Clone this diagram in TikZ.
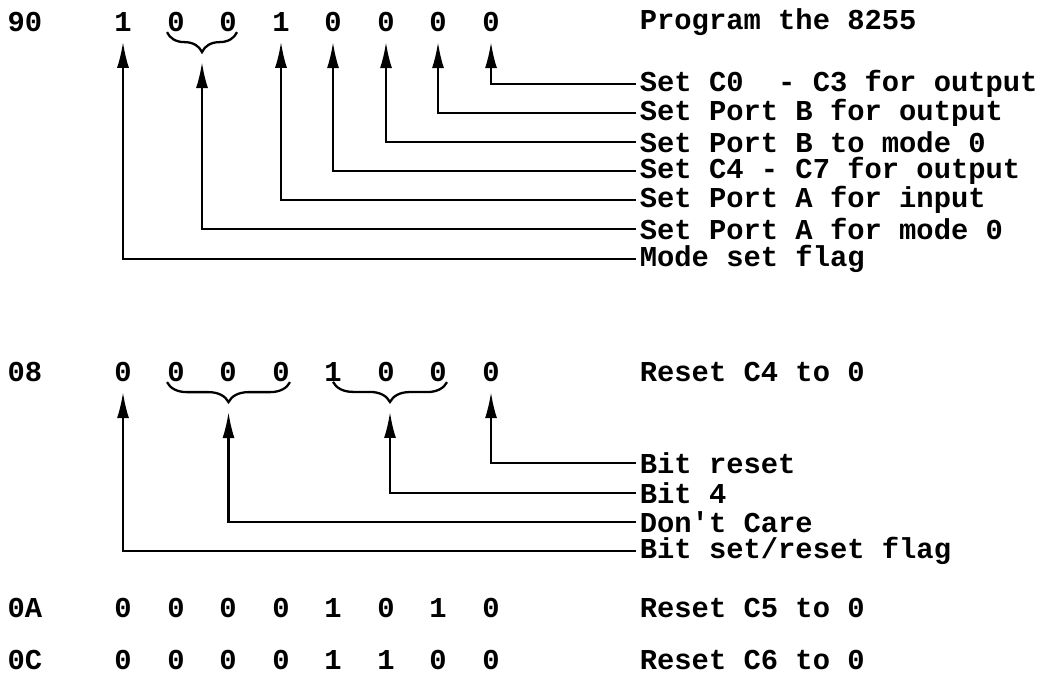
\documentclass[tikz,border=0pt]{standalone}
\usepackage{fontspec}
\setmonofont{Liberation Mono}
\usetikzlibrary{arrows.meta,decorations.pathreplacing}

\begin{document}
\begin{tikzpicture}[
      x=0.02cm, y=-0.02cm,
      txt/.style={font=\ttfamily\bfseries\fontsize{16.4}{20}\selectfont, inner sep=0pt},
      lbl/.style={txt, anchor=west, inner xsep=2pt},
      brace/.style={decorate, decoration={brace, mirror, amplitude=0.4cm}, line width=1.3pt},
      link/.style={<-, line width=1.2pt, shorten <=0.2cm},
      >={Latex[length=0.52cm, width=0.24cm]}
    ]
    \useasboundingbox (0,0) rectangle (1043,682);

    % ---- row positions ----
    \def\ya{22}
    \def\yb{372}
    \def\yc{608}
    \def\yd{660}

    % ---- left edge of the comments ----
    \def\xt{636}

    % ================= 90: program the 8255 =================
    \node[txt] (ha) at (25,\ya) {90};
    \node[txt] (a1) at (123,\ya) {1};
    \node[txt] (a2) at (176,\ya) {0};
    \node[txt] (a3) at (228,\ya) {0};
    \node[txt] (a4) at (281,\ya) {1};
    \node[txt] (a5) at (333,\ya) {0};
    \node[txt] (a6) at (386,\ya) {0};
    \node[txt] (a7) at (438,\ya) {0};
    \node[txt] (a8) at (491,\ya) {0};
    \node[lbl] (ta) at (\xt,\ya) {Program the 8255};

    \draw[brace] (a2.south west) -- (a3.south east) coordinate[midway] (ba);

    \node[lbl] (la1) at (\xt,84)  {Set C0~~- C3 for output};
    \node[lbl] (la2) at (\xt,113) {Set Port B for output};
    \node[lbl] (la3) at (\xt,142) {Set Port B to mode 0};
    \node[lbl] (la4) at (\xt,171) {Set C4 - C7 for output};
    \node[lbl] (la5) at (\xt,200) {Set Port A for input};
    \node[lbl] (la6) at (\xt,229) {Set Port A for mode 0};
    \node[lbl] (la7) at (\xt,259) {Mode set flag};

    \draw[link] (a8.south) |- (la1.west);
    \draw[link] (a7.south) |- (la2.west);
    \draw[link] (a6.south) |- (la3.west);
    \draw[link] (a5.south) |- (la4.west);
    \draw[link] (a4.south) |- (la5.west);
    \draw[link] ([yshift=-0.4cm]ba) |- (la6.west);
    \draw[link] (a1.south) |- (la7.west);

    % ================= 08: reset C4 =================
    \node[txt] (hb) at (25,\yb) {08};
    \node[txt] (b1) at (123,\yb) {0};
    \node[txt] (b2) at (176,\yb) {0};
    \node[txt] (b3) at (228,\yb) {0};
    \node[txt] (b4) at (281,\yb) {0};
    \node[txt] (b5) at (333,\yb) {1};
    \node[txt] (b6) at (386,\yb) {0};
    \node[txt] (b7) at (438,\yb) {0};
    \node[txt] (b8) at (491,\yb) {0};
    \node[lbl] (tb) at (\xt,\yb) {Reset C4 to 0};

    \draw[brace] (b2.south west) -- (b4.south east) coordinate[midway] (bb);
    \draw[brace] (b5.south) -- (b7.south east) coordinate[midway] (bc);

    \node[lbl] (lb1) at (\xt,463) {Bit reset};
    \node[lbl] (lb2) at (\xt,493) {Bit 4};
    \node[lbl] (lb3) at (\xt,522) {Don't Care};
    \node[lbl] (lb4) at (\xt,551) {Bit set/reset flag};

    \draw[link] (b8.south) |- (lb1.west);
    \draw[link] ([yshift=-0.4cm]bc) |- (lb2.west);
    \draw[link] ([yshift=-0.4cm]bb) |- (lb3.west);
    \draw[link] (b1.south) |- (lb4.west);

    % ================= 0A and 0C =================
    \node[txt] (hc) at (25,\yc) {0A};
    \node[txt] (c1) at (123,\yc) {0};
    \node[txt] (c2) at (176,\yc) {0};
    \node[txt] (c3) at (228,\yc) {0};
    \node[txt] (c4) at (281,\yc) {0};
    \node[txt] (c5) at (333,\yc) {1};
    \node[txt] (c6) at (386,\yc) {0};
    \node[txt] (c7) at (438,\yc) {1};
    \node[txt] (c8) at (491,\yc) {0};
    \node[lbl] (tc) at (\xt,\yc) {Reset C5 to 0};

    \node[txt] (hd) at (25,\yd) {0C};
    \node[txt] (d1) at (123,\yd) {0};
    \node[txt] (d2) at (176,\yd) {0};
    \node[txt] (d3) at (228,\yd) {0};
    \node[txt] (d4) at (281,\yd) {0};
    \node[txt] (d5) at (333,\yd) {1};
    \node[txt] (d6) at (386,\yd) {1};
    \node[txt] (d7) at (438,\yd) {0};
    \node[txt] (d8) at (491,\yd) {0};
    \node[lbl] (td) at (\xt,\yd) {Reset C6 to 0};

    \end{tikzpicture}
\end{document}
